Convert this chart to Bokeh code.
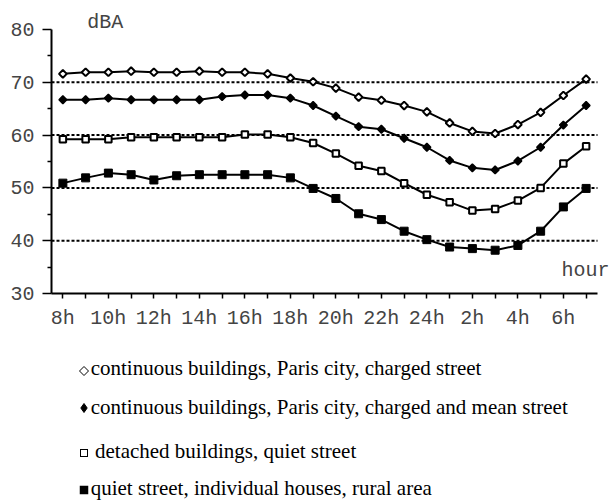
from bokeh.plotting import figure
from bokeh.models import Range1d, FixedTicker, Label, Div
from bokeh.layouts import column
from bokeh.embed import file_html
from bokeh.resources import INLINE
import math

# ---------------- data ----------------
hours = ["8h", "9h", "10h", "11h", "12h", "13h", "14h", "15h", "16h", "17h",
         "18h", "19h", "20h", "21h", "22h", "23h", "24h", "1h", "2h", "3h",
         "4h", "5h", "6h", "7h"]
tick_labels = ["8h", "", "10h", "", "12h", "", "14h", "", "16h", "", "18h", "",
               "20h", "", "22h", "", "24h", "", "2h", "", "4h", "", "6h", ""]
y_ticks = [30, 40, 50, 60, 70, 80]
y_minor = [35, 45, 55, 65, 75]
grid_levels = [40, 50, 60, 70]

paris_charged = [71.6, 71.9, 71.9, 72.1, 71.9, 71.9, 72.1, 71.9, 71.9, 71.6,
                 70.8, 70.1, 68.9, 67.2, 66.6, 65.6, 64.4, 62.3, 60.7, 60.3,
                 62.0, 64.3, 67.5, 70.6]
paris_mean = [66.7, 66.7, 67.0, 66.7, 66.7, 66.7, 66.7, 67.3, 67.6, 67.6,
              67.0, 65.6, 63.6, 61.6, 61.1, 59.4, 57.7, 55.2, 53.8, 53.4,
              55.1, 57.7, 61.9, 65.6]
detached_quiet = [59.2, 59.2, 59.2, 59.6, 59.6, 59.6, 59.6, 59.6, 60.1, 60.1,
                  59.6, 58.5, 56.5, 54.2, 53.2, 50.9, 48.7, 47.3, 45.7, 46.0,
                  47.6, 50.0, 54.6, 57.9]
rural = [50.9, 51.9, 52.8, 52.5, 51.5, 52.3, 52.5, 52.5, 52.5, 52.5,
         51.9, 49.9, 48.0, 45.1, 44.0, 41.8, 40.2, 38.8, 38.5, 38.2,
         39.1, 41.8, 46.4, 49.9]

legend_labels = [
    "continuous buildings, Paris city, charged street",
    "continuous buildings, Paris city, charged and mean street",
    "detached buildings, quiet street",
    "quiet street, individual houses, rural area",
]
y_title = "dBA"
x_title = "hour"

# ---------------- main chart ----------------
x = list(range(len(hours)))
MONO = "Liberation Mono"
TXT = "#444444"
X0, X1 = -0.5, len(hours) - 0.5      # extent of the drawn x axis
Y0, Y1 = y_ticks[0], y_ticks[-1]     # extent of the drawn y axis

W, H = 611, 338
FL, FB = 51, 45                       # left / bottom panel sizes
px_x = 22.75                          # px per hour
px_y = 5.28                           # px per dBA
frame_w = W - FL
frame_h = H - FB

p = figure(width=W, height=H, output_backend="svg", toolbar_location=None,
           x_range=Range1d(X0, X0 + frame_w / px_x),
           y_range=Range1d(Y0, Y0 + frame_h / px_y),
           min_border_left=FL, min_border_right=0, min_border_top=0,
           min_border_bottom=FB)
p.outline_line_color = None
p.background_fill_color = "white"
p.grid.visible = False

# dotted reference lines at the grid levels, limited to the axis extent
p.segment(x0=[X0] * len(grid_levels), x1=[X1] * len(grid_levels),
          y0=grid_levels, y1=grid_levels, line_color="black",
          line_width=2, line_dash="3 2")

p.yaxis.ticker = FixedTicker(ticks=y_ticks, minor_ticks=y_minor)
p.yaxis.bounds = (Y0, Y1)
p.yaxis.major_tick_out = 9
p.yaxis.major_tick_in = 0
p.yaxis.minor_tick_out = 4
p.yaxis.minor_tick_in = 0
p.yaxis.major_label_standoff = 8

p.xaxis.ticker = FixedTicker(ticks=x)
p.xaxis.bounds = (X0, X1)
p.xaxis.major_label_overrides = {i: t for i, t in zip(x, tick_labels)}
p.xaxis.major_tick_out = 5
p.xaxis.major_tick_in = 0
p.xaxis.minor_tick_line_color = None
p.xaxis.major_label_standoff = 8

for ax in (p.xaxis, p.yaxis):
    ax.axis_line_width = 2
    ax.axis_line_color = "black"
    ax.major_tick_line_width = 1.5
    ax.major_tick_line_color = "black"
    ax.minor_tick_line_width = 1.5
    ax.minor_tick_line_color = "black"
    ax.major_label_text_font = MONO
    ax.major_label_text_font_size = "20px"
    ax.major_label_text_color = TXT

series = [
    (paris_charged, dict(marker="square", angle=math.pi / 4, size=5.5,
                         fill_color="white", line_color="black", line_width=2)),
    (paris_mean, dict(marker="square", angle=math.pi / 4, size=5.5,
                      fill_color="black", line_color="black", line_width=1.5)),
    (detached_quiet, dict(marker="square", size=6.5,
                          fill_color="white", line_color="black", line_width=2)),
    (rural, dict(marker="square", size=8,
                 fill_color="black", line_color="black", line_width=1)),
]
for vals, style in series:
    p.line(x, vals, line_color="black", line_width=2)
    p.scatter(x, vals, **style)

p.add_layout(Label(x=1.07, y=81.27, text=y_title, text_font=MONO,
                   text_font_size="20px", text_color=TXT,
                   text_baseline="alphabetic", text_align="left"))
p.add_layout(Label(x=24.03, y=34.36, text=x_title, text_font=MONO,
                   text_font_size="20px", text_color=TXT,
                   text_baseline="alphabetic", text_align="right"))

# ---------------- legend (HTML below the chart) ----------------
LH = 165
marker_cy = [33, 70, 115.3, 152]
text_base = [37.7, 77, 120.3, 158]
text_left = [90.7, 90.7, 95, 90.7]
marker_cx = 84
FS = 21
ascent = 17.6   # baseline offset from line-box top for 21px serif, line-height 21px

symbols = [
    '<polygon points="6,1.5 10.5,6 6,10.5 1.5,6" fill="white" stroke="black" stroke-width="1"/>',
    '<polygon points="6,1.5 9.2,6 6,10.5 2.8,6" fill="black" stroke="black" stroke-width="1"/>',
    '<rect x="2.5" y="2.5" width="7" height="7" fill="white" stroke="black" stroke-width="1"/>',
    '<rect x="2" y="2" width="8" height="8" fill="black" stroke="black" stroke-width="0.5"/>',
]

parts = [f'<div style="position:relative;width:{W}px;height:{LH}px;'
         f'font-family:\'Liberation Serif\',serif;font-size:{FS}px;'
         f'line-height:{FS}px;color:black;">']
for lab, cy, tb, tl, sym in zip(legend_labels, marker_cy, text_base, text_left, symbols):
    parts.append(f'<svg width="12" height="12" style="position:absolute;'
                 f'left:{marker_cx - 6}px;top:{cy - 6}px;">{sym}</svg>')
    parts.append(f'<div style="position:absolute;left:{tl}px;top:{tb - ascent}px;'
                 f'white-space:nowrap;">{lab}</div>')
parts.append('</div>')

lg = Div(text="".join(parts), width=W, height=LH, margin=0)

layout = column(p, lg, spacing=0)
open("out.html", "w").write(file_html(layout, INLINE))
